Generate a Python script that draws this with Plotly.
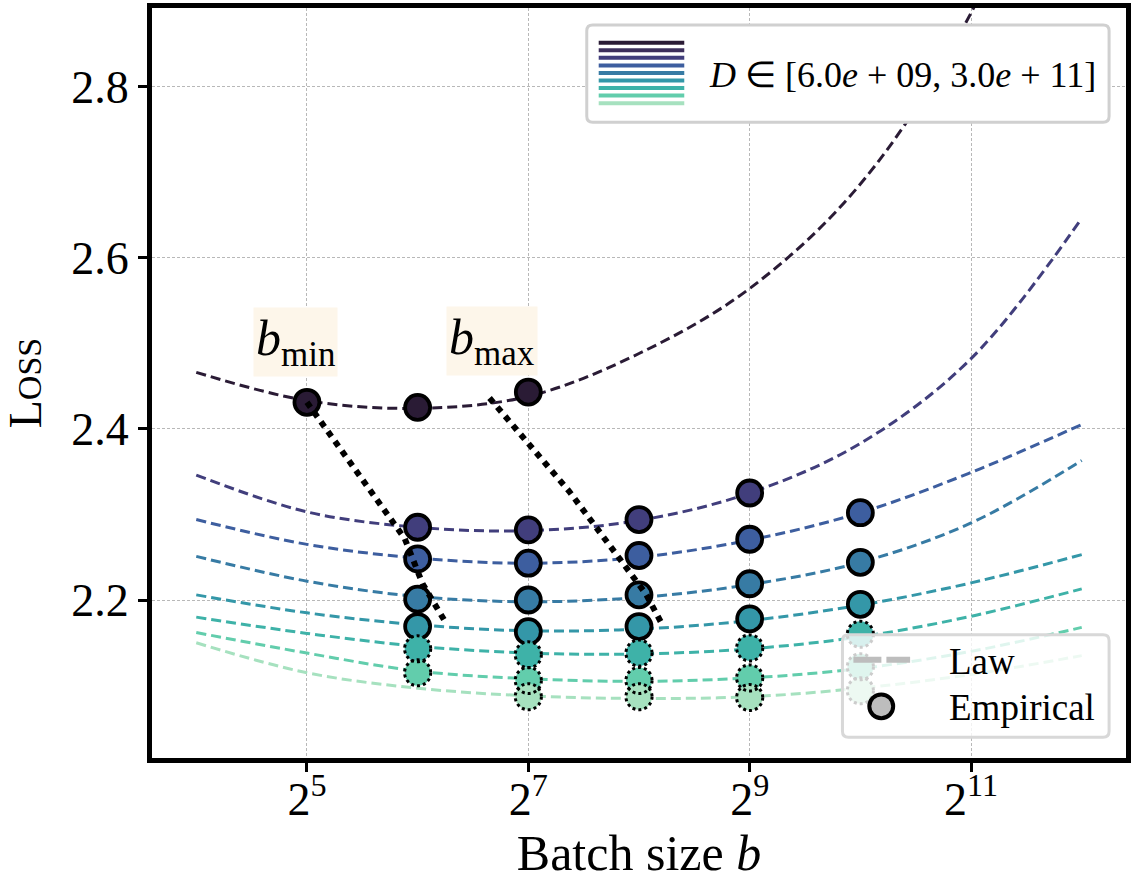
import numpy as np
import plotly.graph_objects as go

# ---------------- data ----------------
law_batch = [16, 32, 64, 128, 256, 512, 1024, 2048, 4096]
law_D1 = [2.466, 2.433, 2.424, 2.438, 2.488, 2.564, 2.686, 2.886, 3.200]
law_D2 = [2.346, 2.303, 2.285, 2.281, 2.293, 2.325, 2.383, 2.482, 2.646]
law_D3 = [2.294, 2.265, 2.249, 2.243, 2.250, 2.270, 2.302, 2.349, 2.405]
law_D4 = [2.251, 2.222, 2.204, 2.198, 2.203, 2.218, 2.244, 2.290, 2.363]
law_D5 = [2.206, 2.185, 2.171, 2.164, 2.166, 2.176, 2.194, 2.220, 2.253]
law_D6 = [2.180, 2.161, 2.146, 2.138, 2.137, 2.143, 2.157, 2.181, 2.213]
law_D7 = [2.162, 2.138, 2.117, 2.108, 2.105, 2.109, 2.120, 2.140, 2.168]
law_D8 = [2.150, 2.115, 2.097, 2.088, 2.085, 2.087, 2.097, 2.113, 2.135]

emp_D1_b = [32, 64, 128]
emp_D1_L = [2.431, 2.425, 2.443]
emp_D2_b = [64, 128, 256, 512]
emp_D2_L = [2.285, 2.282, 2.294, 2.325]
emp_D3_b = [64, 128, 256, 512, 1024]
emp_D3_L = [2.248, 2.243, 2.252, 2.271, 2.302]
emp_D4_b = [64, 128, 256, 512, 1024]
emp_D4_L = [2.201, 2.200, 2.206, 2.219, 2.244]
emp_D5_b = [64, 128, 256, 512, 1024]
emp_D5_L = [2.169, 2.163, 2.169, 2.178, 2.195]
emp_D6_b = [64, 128, 256, 512, 1024]
emp_D6_L = [2.143, 2.136, 2.138, 2.144, 2.160]
emp_D7_b = [64, 128, 256, 512, 1024]
emp_D7_L = [2.115, 2.106, 2.106, 2.109, 2.122]
emp_D8_b = [128, 256, 512, 1024]
emp_D8_L = [2.087, 2.087, 2.086, 2.094]

bmin_b = [32, 59.0, 66.0, 76.7]
bmin_L = [2.431, 2.272, 2.219, 2.172]
bmax_b = [100.4, 165.3, 216.3, 267.4, 295.5]
bmax_L = [2.436, 2.327, 2.260, 2.207, 2.172]

x_tick_vals = [32, 128, 512, 2048]
x_tick_text = ["2<sup>5</sup>", "2<sup>7</sup>", "2<sup>9</sup>", "2<sup>11</sup>"]
y_tick_vals = [2.2, 2.4, 2.6, 2.8]
y_tick_text = ["2.2", "2.4", "2.6", "2.8"]
legend_text = "<i>D</i> \u2208 [6.0<i>e</i> + 09, 3.0<i>e</i> + 11]"

# ---------------- style ----------------
palette = ['#2a1b35', '#3d2f5c', '#413e7c', '#3d5e9f', '#377ba4',
           '#3497a8', '#3eb2a8', '#62cdac', '#a6e1bf']
series_color_idx = [0, 2, 3, 4, 5, 6, 7, 8]
dotted_series = [False, False, False, False, False, True, True, True]
FONT = "Liberation Serif"
RING_EXP = 0.118     # ring half-width in log2 units (~13 px)
RING_LOSS = 0.0152   # ring half-height in loss units (~13 px)

laws = [law_D1, law_D2, law_D3, law_D4, law_D5, law_D6, law_D7, law_D8]
emps = [(emp_D1_b, emp_D1_L), (emp_D2_b, emp_D2_L), (emp_D3_b, emp_D3_L),
        (emp_D4_b, emp_D4_L), (emp_D5_b, emp_D5_L), (emp_D6_b, emp_D6_L),
        (emp_D7_b, emp_D7_L), (emp_D8_b, emp_D8_L)]

fig = go.Figure()

for law, ci in zip(laws, series_color_idx):
    fig.add_trace(go.Scatter(x=law_batch, y=law, mode='lines',
                             line=dict(color=palette[ci], width=3, dash='10px,5px',
                                       shape='spline', smoothing=1.0),
                             showlegend=False, hoverinfo='skip'))

shapes = []
for (bs, Ls), ci, dotted in zip(emps, series_color_idx, dotted_series):
    if dotted:
        fig.add_trace(go.Scatter(x=bs, y=Ls, mode='markers',
                                 marker=dict(color=palette[ci], size=26, line=dict(width=0)),
                                 showlegend=False))
        for b, L in zip(bs, Ls):
            shapes.append(dict(type='circle', xref='x', yref='y',
                               x0=b * 2 ** (-RING_EXP), x1=b * 2 ** RING_EXP,
                               y0=L - RING_LOSS, y1=L + RING_LOSS,
                               line=dict(color='black', width=3, dash='dot'),
                               layer='above'))
    else:
        fig.add_trace(go.Scatter(x=bs, y=Ls, mode='markers',
                                 marker=dict(color=palette[ci], size=25,
                                             line=dict(width=3.8, color='black')),
                                 showlegend=False))

for bx, by in [(bmin_b, bmin_L), (bmax_b, bmax_L)]:
    fig.add_trace(go.Scatter(x=bx, y=by, mode='lines',
                             line=dict(color='black', width=6, dash='dot'),
                             showlegend=False, hoverinfo='skip'))

# ---------------- plot-area geometry helpers (pixels -> paper) ----------------
L_PX, R_PX, T_PX, B_PX = 152, 1131, 3, 758
W, H = 1134, 881


def px(xp):
    return (xp - L_PX) / (R_PX - L_PX)


def py(yp):
    return (B_PX - yp) / (B_PX - T_PX)


def rounded_rect(x0, y0, x1, y1, r):
    rx = r / (R_PX - L_PX)
    ry = r / (B_PX - T_PX)
    X0, X1 = px(x0), px(x1)
    Y0, Y1 = py(y1), py(y0)
    return (f"M{X0+rx},{Y0} L{X1-rx},{Y0} Q{X1},{Y0} {X1},{Y0+ry} "
            f"L{X1},{Y1-ry} Q{X1},{Y1} {X1-rx},{Y1} L{X0+rx},{Y1} "
            f"Q{X0},{Y1} {X0},{Y1-ry} L{X0},{Y0+ry} Q{X0},{Y0} {X0+rx},{Y0} Z")


# top-right legend
shapes.append(dict(type='path', xref='paper', yref='paper',
                   path=rounded_rect(589, 20, 1114, 118, 6),
                   fillcolor='white', line=dict(color='#d0d0d0', width=3), layer='above'))
for i, c in enumerate(palette):
    yy = py(38 + i * 7.6)
    shapes.append(dict(type='line', xref='paper', yref='paper',
                       x0=px(601), x1=px(687), y0=yy, y1=yy,
                       line=dict(color=c, width=4), layer='above'))

# bottom-right legend
shapes.append(dict(type='path', xref='paper', yref='paper',
                   path=rounded_rect(846, 634, 1114, 737, 6),
                   fillcolor='rgba(255,255,255,0.8)', line=dict(color='#d8d8d8', width=3),
                   layer='above'))
shapes.append(dict(type='line', xref='paper', yref='paper',
                   x0=px(857), x1=px(914), y0=py(659), y1=py(659),
                   line=dict(color='#bdbdbd', width=6, dash='28px,5px'), layer='above'))
shapes.append(dict(type='circle', xref='paper', yref='paper',
                   x0=px(873), x1=px(897), y0=py(718), y1=py(694),
                   fillcolor='#bdbdbd', line=dict(color='black', width=4), layer='above'))

annotations = [
    dict(xref='paper', yref='paper', x=px(710), y=py(70), xanchor='left', yanchor='middle',
         text=legend_text, showarrow=False, font=dict(family=FONT, size=36, color='black')),
    dict(xref='paper', yref='paper', x=px(951), y=py(661), xanchor='left', yanchor='middle',
         text="Law", showarrow=False, font=dict(family=FONT, size=37, color='black')),
    dict(xref='paper', yref='paper', x=px(951), y=py(707), xanchor='left', yanchor='middle',
         text="Empirical", showarrow=False, font=dict(family=FONT, size=37, color='black')),
    dict(xref='x', yref='y', x=np.log10(2 ** 4.9), y=2.501, text="<i>b</i><sub>min</sub>",
         showarrow=False, bgcolor='#fdf6ea', borderpad=2,
         font=dict(family=FONT, size=50, color='black')),
    dict(xref='x', yref='y', x=np.log10(2 ** 6.67), y=2.503, text="<i>b</i><sub>max</sub>",
         showarrow=False, bgcolor='#fdf6ea', borderpad=2,
         font=dict(family=FONT, size=50, color='black')),
]

fig.update_layout(
    width=W, height=H,
    margin=dict(l=L_PX, r=W - R_PX, t=T_PX, b=H - B_PX),
    plot_bgcolor='white', paper_bgcolor='white',
    shapes=shapes, annotations=annotations,
    font=dict(family=FONT, color='black'),
    xaxis=dict(type='log', range=[3.6 * np.log10(2), 12.4 * np.log10(2)],
               tickvals=x_tick_vals, ticktext=x_tick_text,
               tickfont=dict(family=FONT, size=46, color='black'),
               ticks='outside', ticklen=9, tickwidth=2.5, tickcolor='black',
               ticklabelstandoff=-12,
               showline=True, linecolor='black', linewidth=5, mirror=True,
               showgrid=True, gridcolor='#b8b8b8', gridwidth=0.8, griddash='3px,2px',
               zeroline=False,
               title=dict(text="Batch size <i>b</i>", standoff=14,
                          font=dict(family=FONT, size=50, color='black'))),
    yaxis=dict(range=[2.0154, 2.8917],
               tickvals=y_tick_vals, ticktext=y_tick_text,
               tickfont=dict(family=FONT, size=46, color='black'),
               ticks='outside', ticklen=9, tickwidth=2.5, tickcolor='black',
               showline=True, linecolor='black', linewidth=5, mirror=True,
               showgrid=True, gridcolor='#b8b8b8', gridwidth=0.8, griddash='3px,2px',
               zeroline=False,
               title=dict(text="L<span style='font-size:34px'>OSS</span>", standoff=34,
                          font=dict(family=FONT, size=46, color='black'))),
)

fig.write_html("out.html")
